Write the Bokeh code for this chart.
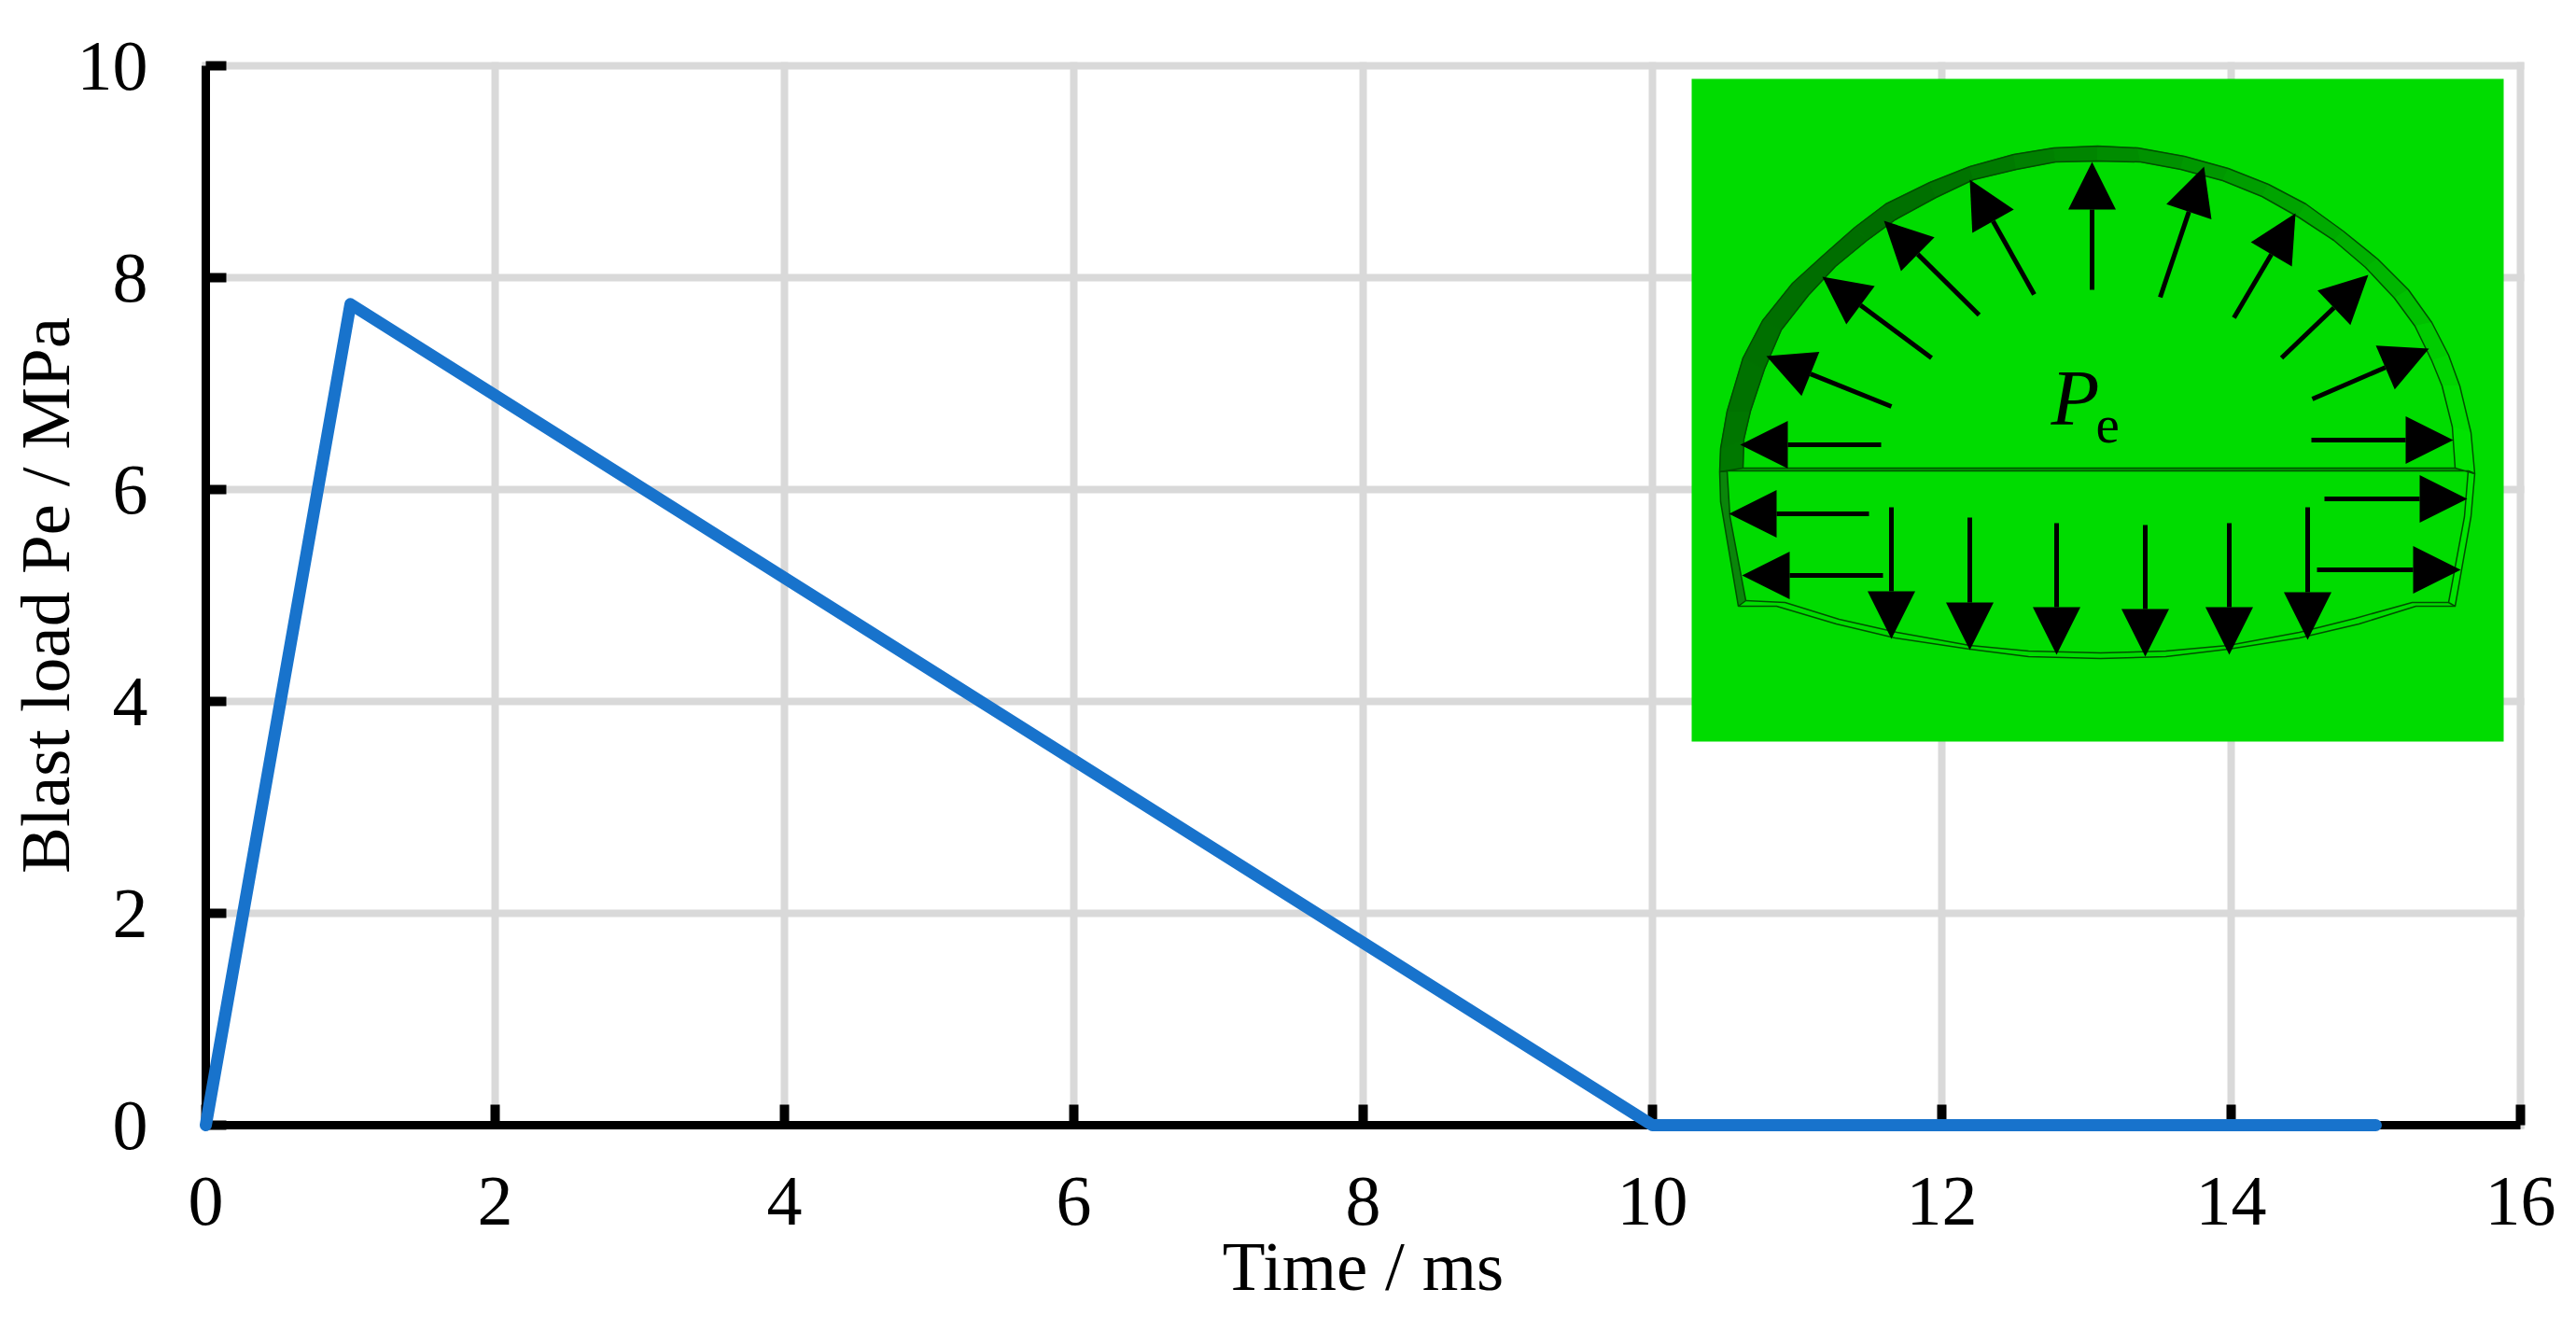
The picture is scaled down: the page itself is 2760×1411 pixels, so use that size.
import numpy as np
from bokeh.embed import file_html
from bokeh.models import FixedTicker, Range1d
from bokeh.plotting import figure
from bokeh.resources import INLINE

# load history
time_ms = [0, 1, 10, 15]
blast_mpa = [0, 7.75, 0, 0]
x_ticks = [0, 2, 4, 6, 8, 10, 12, 14, 16]
y_ticks = [0, 2, 4, 6, 8, 10]

# inset sketch in its own pixel coordinates
arch_outer_x = [1842, 1843, 1850, 1867, 1888, 1920, 1953, 1987, 2020, 2067, 2110, 2157, 2200, 2247,
                2290, 2340, 2387, 2430, 2470, 2510, 2547, 2580, 2605, 2623, 2635, 2647, 2651]
arch_outer_y = [505, 480, 440, 383, 343, 303, 273, 243, 218, 195, 178, 165, 158, 156,
                158, 167, 180, 197, 218, 247, 277, 310, 345, 380, 413, 463, 507]
arch_inner_x = [1867, 1868, 1875, 1890, 1908, 1937, 1966, 2000, 2030, 2074, 2114, 2160, 2202, 2247,
                2293, 2336, 2381, 2423, 2462, 2500, 2534, 2565, 2587, 2605, 2616, 2627, 2630]
arch_inner_y = [501, 470, 440, 395, 353, 316, 285, 257, 235, 211, 192, 181, 173, 172,
                173, 181, 193, 210, 232, 257, 286, 319, 349, 386, 413, 457, 501]
arch_colors = ["#007800", "#007600", "#007200", "#007000", "#006f00", "#006e00", "#006e00", "#006e00",
               "#007000", "#007400", "#007a00", "#008000", "#008500", "#008c00", "#009200", "#009800",
               "#009e00", "#00a400", "#00aa00", "#00b000", "#00b600", "#00c000", "#00cc00", "#00d400",
               "#00dc00", "#00e200"]

wall_left_x = [1842, 1843, 1862, 1870, 1853, 1850]
wall_left_y = [505, 537, 649, 643, 553, 504]
wall_right_x = [2651, 2647, 2630, 2623, 2640, 2644]
wall_right_y = [507, 553, 649, 645, 553, 504]

invert_outer_x = [1862, 1903, 1967, 2030, 2110, 2173, 2250, 2320, 2387, 2463, 2527, 2588, 2630]
invert_outer_y = [649, 649, 668, 683, 695, 703, 705, 703, 695, 683, 668, 649, 649]
invert_inner_x = [1870, 1912, 1970, 2032, 2110, 2173, 2250, 2320, 2387, 2463, 2523, 2584, 2623]
invert_inner_y = [643, 645, 663, 677, 691, 697, 699, 697, 691, 677, 662, 645, 645]

slab_x = [1842, 1867, 2630, 2651, 2644, 1850]
slab_y = [505, 501, 501, 507, 504, 504]

arrow_tail_x = [2241, 2179, 2120, 2069, 2026, 2015, 2002, 2017, 2314, 2393, 2444, 2477, 2476, 2490, 2482,
                2026, 2110, 2203, 2298, 2388, 2472]
arrow_tail_y = [310, 315, 337, 383, 435, 476, 550, 616, 318, 340, 383, 427, 471, 534, 610,
                543, 554, 560, 562, 560, 543]
arrow_tip_x = [2241, 2110, 2018, 1952, 1892, 1864, 1852, 1866, 2361, 2459, 2537, 2602, 2628, 2643, 2636,
               2026, 2110, 2203, 2298, 2388, 2472]
arrow_tip_y = [173, 192, 236, 296, 381, 476, 550, 616, 178, 228, 294, 373, 471, 534, 610,
               684, 696, 701, 703, 701, 685]

W, H = 2744, 1403
x0, x_scale = 220, 155    # picture px of time 0, px per ms
y0, y_scale = 1205, 113.5  # picture px of load 0, px per MPa

# the frame fills the whole canvas so the thick curve on the axis and the fixed axes are not cut off
p = figure(width=W, height=H, output_backend="svg", toolbar_location=None,
           x_range=Range1d(-x0 / x_scale, (W - x0) / x_scale),
           y_range=Range1d((y0 - H) / y_scale, y0 / y_scale),
           x_axis_label="Time / ms", y_axis_label="Blast load Pe / MPa",
           min_border=0)
p.outline_line_color = None
p.background_fill_color = "white"
p.grid.visible = False

# same frame, but numbered in the picture's pixels for the inset
p.extra_x_ranges["ref"] = Range1d(0, W)
p.extra_y_ranges["ref"] = Range1d(H, 0)

for ax, ticks, limits in ((p.xaxis, x_ticks, (0, 16)), (p.yaxis, y_ticks, (0, 10))):
    ax.ticker = FixedTicker(ticks=ticks)
    ax.fixed_location = 0
    ax.bounds = limits
    ax.axis_line_color = "black"
    ax.axis_line_width = 9
    ax.major_tick_line_color = "black"
    ax.major_tick_line_width = 10
    ax.major_tick_in = 22
    ax.major_tick_out = 0
    ax.minor_tick_line_color = None
    ax.major_label_text_font = "Liberation Serif"
    ax.major_label_text_font_size = "76px"
    ax.major_label_text_color = "black"
    ax.axis_label_text_font = "Liberation Serif"
    ax.axis_label_text_font_size = "75px"
    ax.axis_label_text_font_style = "normal"
    ax.axis_label_text_color = "black"

p.xaxis.major_label_standoff = 56
p.xaxis.axis_label_standoff = 0
p.yaxis.major_label_standoff = 62
p.yaxis.axis_label_standoff = -10

# grid lines stop at the last tick
grid_style = dict(line_color="#d9d9d9", line_width=8, line_cap="square", level="underlay")
p.segment(x_ticks, [0] * len(x_ticks), x_ticks, [10] * len(x_ticks), **grid_style)
p.segment([0] * len(y_ticks), y_ticks, [16] * len(y_ticks), y_ticks, **grid_style)

# inset
ref = dict(x_range_name="ref", y_range_name="ref")
line_green = "#004f00"
p.quad(left=[1812], right=[2682], top=[84], bottom=[794], fill_color="#00dc00", line_color=None, **ref)

band_xs = [[arch_outer_x[i], arch_outer_x[i + 1], arch_inner_x[i + 1], arch_inner_x[i]] for i in range(len(arch_colors))]
band_ys = [[arch_outer_y[i], arch_outer_y[i + 1], arch_inner_y[i + 1], arch_inner_y[i]] for i in range(len(arch_colors))]
p.patches(band_xs, band_ys, fill_color=arch_colors, line_color=arch_colors, line_width=1, **ref)
p.patch(wall_left_x, wall_left_y, fill_color="#0a860a", line_color=line_green, line_width=1.5, **ref)
p.patch(wall_right_x, wall_right_y, fill_color="#00e400", line_color=line_green, line_width=1.5, **ref)
p.patch(slab_x, slab_y, fill_color="#00a000", line_color=line_green, line_width=1.5, **ref)
for xs, ys in ((arch_outer_x, arch_outer_y), (arch_inner_x, arch_inner_y),
               (invert_outer_x, invert_outer_y), (invert_inner_x, invert_inner_y)):
    p.line(xs, ys, line_color=line_green, line_width=1.5, **ref)

# arrows: shaft up to the head, head 51 long and 51 across
tail = np.array([arrow_tail_x, arrow_tail_y], dtype=float).T
tip = np.array([arrow_tip_x, arrow_tip_y], dtype=float).T
unit = (tip - tail) / np.linalg.norm(tip - tail, axis=1, keepdims=True)
normal = np.column_stack([-unit[:, 1], unit[:, 0]])
base = tip - 51 * unit
p.segment(tail[:, 0], tail[:, 1], base[:, 0], base[:, 1], line_color="black", line_width=5, **ref)
p.patches([[t[0], b[0] + 25.5 * n[0], b[0] - 25.5 * n[0]] for t, b, n in zip(tip, base, normal)],
          [[t[1], b[1] + 25.5 * n[1], b[1] - 25.5 * n[1]] for t, b, n in zip(tip, base, normal)],
          fill_color="black", line_color=None, **ref)

p.text([2197], [425], ["P"], text_font="Liberation Serif", text_font_style="italic", text_font_size="85px",
       text_color="black", text_baseline="alphabetic", text_align="left", **ref)
p.text([2245], [454], ["e"], text_font="Liberation Serif", text_font_size="57px",
       text_color="black", text_baseline="alphabetic", text_align="left", **ref)

p.line(time_ms, blast_mpa, line_color="#1873cc", line_width=13, line_join="round", line_cap="round",
       level="annotation")

open("out.html", "w").write(file_html(p, INLINE))
